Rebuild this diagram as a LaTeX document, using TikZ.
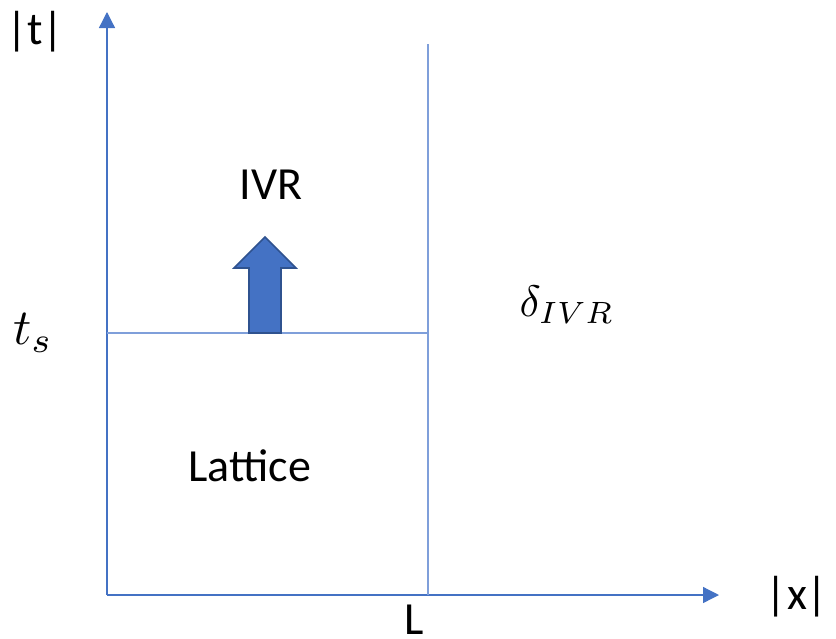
\documentclass[tikz,border=0pt]{standalone}
\usepackage{fontspec}
\setmainfont{Carlito}
\usetikzlibrary{arrows.meta}
\definecolor{axisblue}{HTML}{4472C4}
\definecolor{lineblue}{HTML}{7F9FDA}
\definecolor{arrowedge}{HTML}{2F528F}
\tikzset{
  axisline/.style={draw=axisblue, line width=1.3pt, -{Triangle[length=16pt,width=16pt]}},
  thinline/.style={draw=lineblue, line width=1.3pt},
  lbl/.style={font=\fontsize{46}{50}\selectfont, inner sep=0pt, text=black},
  mlbl/.style={scale=4.4, inner sep=0pt, text=black},
  fatarrow/.style={fill=axisblue, draw=arrowedge, line width=1.6pt, line join=miter}
}
\begin{document}
\begin{tikzpicture}[x=1pt,y=-1pt]
\useasboundingbox (0,0) rectangle (836,638);
\coordinate (O) at (107,595);
\coordinate (ytip) at (107,12);
\coordinate (xtip) at (719,595);
\coordinate (Ltop) at (428,44);
\coordinate (Lbot) at (428,595);
\coordinate (tsL) at (107,333);
\coordinate (tsR) at (428,333);
\draw[axisline] (O) -- (ytip);
\draw[axisline] (O) -- (xtip);
\draw[thinline] (Lbot) -- (Ltop);
\draw[thinline] (tsL) -- (tsR);
\path[fatarrow] (249,333) -- (249,268) -- (234,268) -- (265,237) -- (296,268) -- (281,268) -- (281,333) -- cycle;
\node[lbl] (t) at (35,32) {|t|};
\node[lbl] (x) at (797,597) {|x|};
\node[lbl, anchor=base, text depth=0pt, text height=29pt] (L) at (414,634) {L};
\node[lbl, anchor=base] (ivr) at (271,199) {IVR};
\node[lbl, anchor=base] (lat) at (250,481) {Lattice};
\node[mlbl, scale=1.15] (ts) at (33,333) {$t_s$};
\node[mlbl] (d) at (567,305) {$\delta_{IVR}$};
\end{tikzpicture}
\end{document}
